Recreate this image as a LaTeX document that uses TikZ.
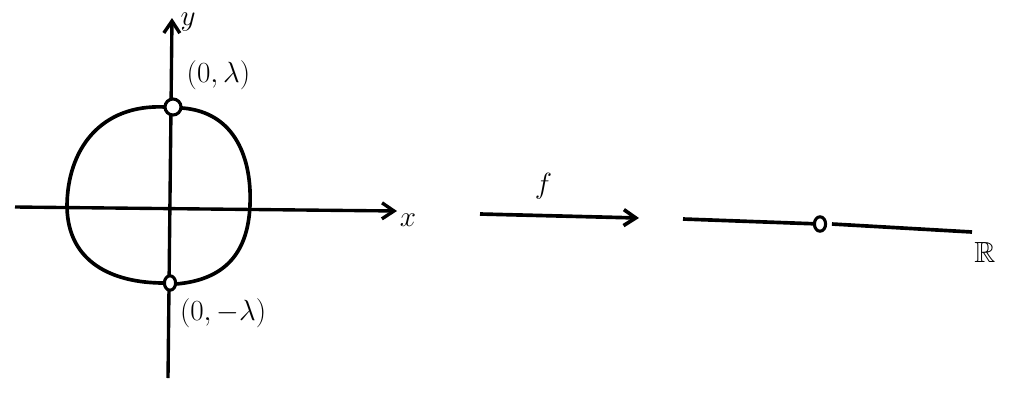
\documentclass[tikz,border=0pt]{standalone}
\usepackage{amsmath}
\usepackage{amssymb}
\usetikzlibrary{shapes.geometric, arrows.meta, positioning, calc}

\begin{document}
\begin{tikzpicture}[
    x=0.025cm, y=-0.025cm,
    hole/.style={circle, draw, line width=2.2pt, fill=white, inner sep=0pt, minimum size=0.4cm},
    smallhole/.style={ellipse, draw, line width=2.2pt, fill=white, inner sep=0pt, minimum width=0.28cm, minimum height=0.36cm},
    axis/.style={line width=2.4pt, -{Straight Barb[length=3mm, width=4mm]}},
    curve/.style={line width=2.6pt},
    arrow/.style={line width=2.6pt, -{Straight Barb[length=3mm, width=4mm]}},
    lab/.style={font=\huge}
]
\useasboundingbox (0,0) rectangle (1024,416);

% Axes
\coordinate (ybot) at (168,378);
\coordinate (ytop) at (172,18);
\coordinate (xleft) at (15,207);
\coordinate (xright) at (397,211);
\draw [axis] (ybot) -- (ytop);
\draw [axis] (xleft) -- (xright);
\node (ylab) [lab] at (188,22) {$y$};
\node (xlab) [lab] at (408,220) {$x$};

% Loop
\draw [curve] (165,107) .. controls (100,104) and (67,150) .. (67,207)
    .. controls (68,262) and (112,283) .. (164,283);
\draw [curve] (182,108) .. controls (236,112) and (252,160) .. (250,205)
    .. controls (248,256) and (222,280) .. (176,284);

% Nodes
\node (top) [hole] at (173,107) {};
\node (bot) [smallhole] at (170,283) {};
\node (toplab) [lab, above right=0.15cm and 0.05cm of top] {$(0,\lambda)$};
\node (botlab) [lab, below right=0.1cm and 0.0cm of bot] {$(0,-\lambda)$};

% Map
\coordinate (fstart) at (480,214);
\coordinate (fend) at (639,218);
\draw [arrow] (fstart) -- node[lab, above=0.25cm, xshift=-0.4cm]{$f$} (fend);

% Real line
\node (pt) [smallhole] at (820,224) {};
\coordinate (rleft) at (683,219);
\coordinate (rright) at (972,232);
\draw [curve] (rleft) -- (pt);
\draw [curve] ([xshift=0.12cm]pt.east) -- (rright);
\node (rlab) [lab] at (985,252) {$\mathbb{R}$};

\end{tikzpicture}
\end{document}
